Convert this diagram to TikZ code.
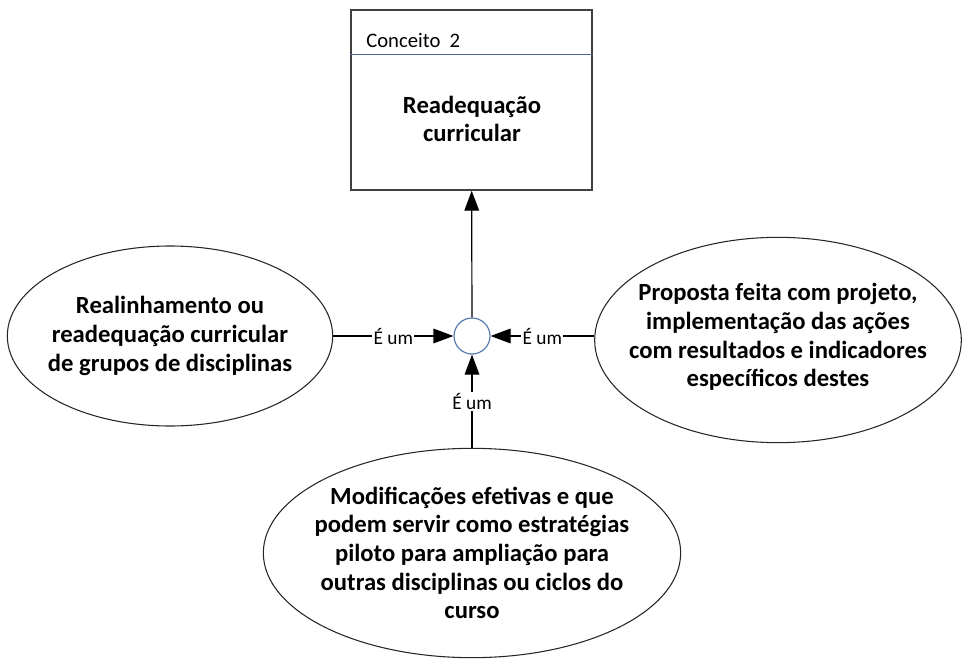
\documentclass[tikz,border=0pt]{standalone}
\usepackage{fontspec}
\setmainfont{Carlito}
\usetikzlibrary{shapes.geometric,arrows.meta}

\definecolor{hdrblue}{HTML}{4A6A9A}
\definecolor{circblue}{HTML}{5B7DB0}

\begin{document}
\begin{tikzpicture}
		[x=0.75pt, y=-0.75pt,
		concept/.style ={rectangle, draw=black!75, line width=1.1pt, minimum width=180.75pt, minimum height=135pt},
		idea/.style ={ellipse, draw=black!85, line width=0.8pt, inner sep=0pt},
		ideatext/.style ={align=center, inner sep=0pt, font=\fontsize{18.5}{21.5}\selectfont\bfseries},
		joint/.style ={circle, draw=circblue, line width=0.9pt, minimum size=27pt, inner sep=0pt},
		isa/.style ={line width=0.9pt, -{Triangle[length=15pt,width=11pt]}},
		lbl/.style ={fill=white, inner sep=1pt, font=\fontsize{14.5}{16}\selectfont},
		]
		\useasboundingbox (0,0) rectangle (966,659);

		\draw (471.5,100) node[concept] (C2) {};
		\draw (366,40) node[anchor=west, inner sep=0pt, font=\fontsize{15.5}{17}\selectfont] (C2T) {Conceito\ \ 2};
		\draw (472,119) node[ideatext] (C2M) {Readequação\\curricular};
		\draw[hdrblue, line width=0.9pt] ([yshift=-33.75pt]C2.north west) -- ([yshift=-33.75pt]C2.north east);

		\draw (472,336) node[joint] (J) {};

		\draw (170,336) node[idea, minimum width=244pt, minimum height=135pt] (L) {};
		\draw (L.center) node[ideatext] (LT) {Realinhamento ou\\readequação curricular\\de grupos de disciplinas};
		\draw (778,340) node[idea, minimum width=275pt, minimum height=154pt] (R) {};
		\draw (778,337) node[ideatext] (RT) {Proposta feita com projeto,\\implementação das ações\\com resultados e indicadores\\específicos destes};
		\draw (472,553) node[idea, minimum width=313pt, minimum height=157pt] (B) {};
		\draw (B.center) node[ideatext] (BT) {Modificações efetivas e que\\podem servir como estratégias\\piloto para ampliação para\\outras disciplinas ou ciclos do\\curso};

		\path[isa]
		(J) edge (C2)
		(L.east |- J) edge node[lbl, pos=0.5] {É um} (J)
		(R.west |- J) edge node[lbl, pos=0.5] {É um} (J)
		(B) edge node[lbl, pos=0.5] {É um} (J);
	\end{tikzpicture}
\end{document}
